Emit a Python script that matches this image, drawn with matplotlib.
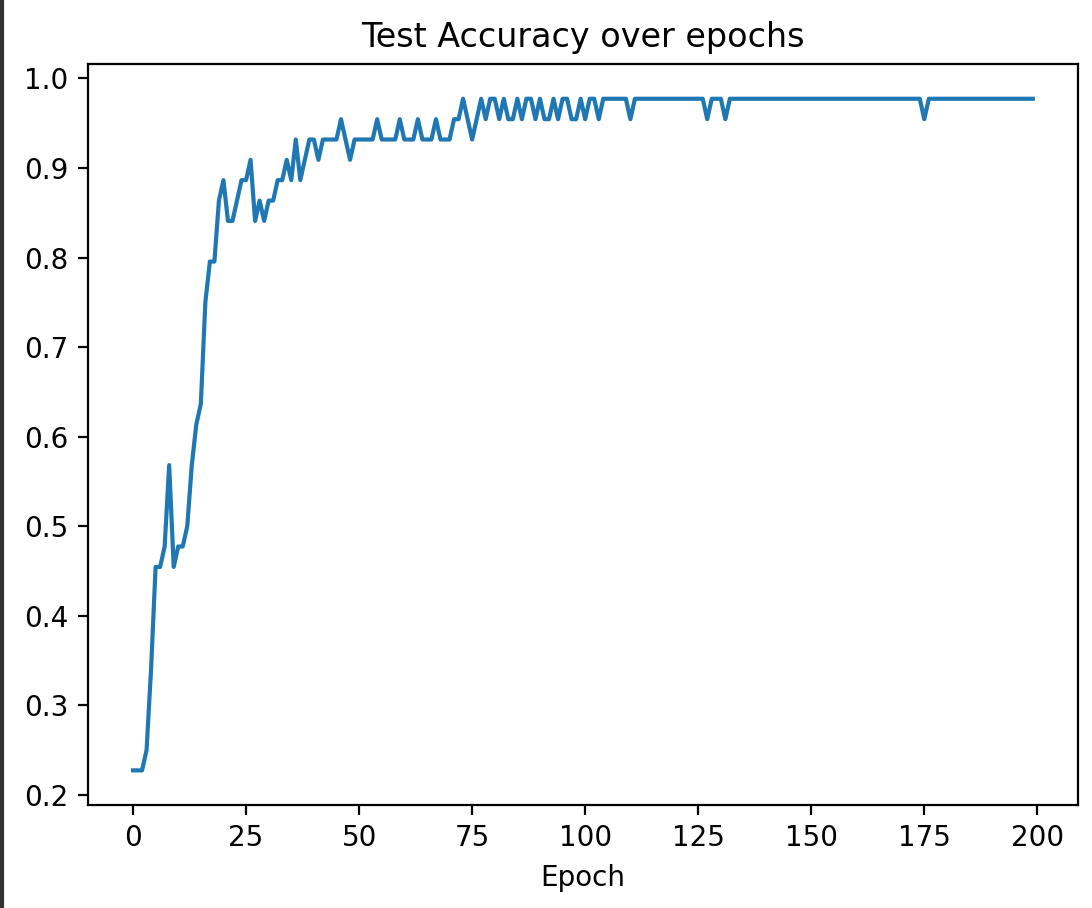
import numpy as np
import matplotlib
matplotlib.use("Agg")
import matplotlib.pyplot as plt
from matplotlib.lines import Line2D

# test accuracy per epoch (test set of 44 samples -> steps of 1/44)
acc_early = [0.2273, 0.2273, 0.2273, 0.25, 0.3409, 0.4545, 0.4545, 0.4773, 0.5682, 0.4545,
             0.4773, 0.4773, 0.5, 0.5682, 0.6136, 0.6364, 0.75, 0.7955, 0.7955, 0.8636,
             0.8864, 0.8409, 0.8409, 0.8636, 0.8864, 0.8864, 0.9091, 0.8409, 0.8636, 0.8409,
             0.8636, 0.8636, 0.8864, 0.8864, 0.9091, 0.8864, 0.9318, 0.8864, 0.9091, 0.9318,
             0.9318, 0.9091, 0.9318, 0.9318, 0.9318, 0.9318, 0.9545, 0.9318, 0.9091, 0.9318]
acc_mid = [0.9318, 0.9318, 0.9318, 0.9318, 0.9545, 0.9318, 0.9318, 0.9318, 0.9318, 0.9545,
           0.9318, 0.9318, 0.9318, 0.9545, 0.9318, 0.9318, 0.9318, 0.9545, 0.9318, 0.9318,
           0.9318, 0.9545, 0.9545, 0.9773, 0.9545, 0.9318, 0.9545, 0.9773, 0.9545, 0.9773,
           0.9773, 0.9545, 0.9773, 0.9545, 0.9545, 0.9773, 0.9545, 0.9773, 0.9773, 0.9545,
           0.9773, 0.9545, 0.9545, 0.9773, 0.9545, 0.9773, 0.9773, 0.9545, 0.9545, 0.9773]
acc_late = ([0.9545, 0.9773, 0.9773, 0.9545] + [0.9773] * 6 + [0.9545] + [0.9773] * 16
            + [0.9545] + [0.9773] * 3 + [0.9545] + [0.9773] * 43 + [0.9545] + [0.9773] * 24)

test_acc = acc_early + acc_mid + acc_late
epochs = np.arange(len(test_acc))

fig = plt.figure(figsize=(1092 / 200, 908 / 200), dpi=200)
ax = fig.add_axes([0.0806, 0.1134, 0.9064, 0.8161])
ax.plot(epochs, test_acc)
ax.set_title('Test Accuracy over epochs')
ax.set_xlabel('Epoch')
ax.set_yticks([0.2, 0.3, 0.4, 0.5, 0.6, 0.7, 0.8, 0.9, 1.0])
ax.set_ylim(0.1886, 1.0161)

# dark screenshot edge on the left
fig.add_artist(Line2D([0.0015, 0.0015], [0, 1], color='#333333', lw=1.5, transform=fig.transFigure))

fig.savefig('out.png', dpi=200)
